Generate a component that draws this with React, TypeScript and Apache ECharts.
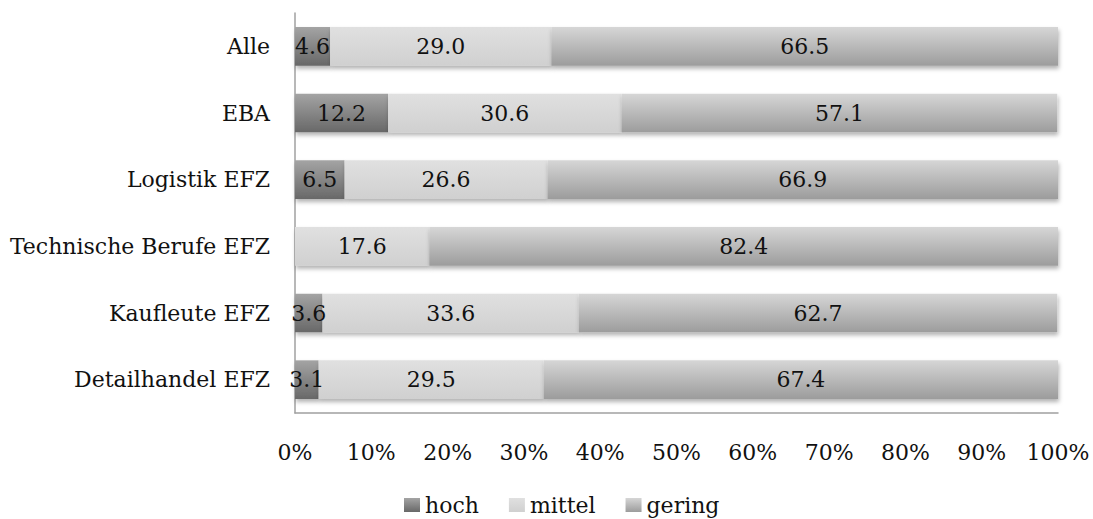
import React, { useEffect, useRef } from "react";
import * as echarts from "echarts";

const categories = [
  "Detailhandel EFZ",
  "Kaufleute EFZ",
  "Technische Berufe EFZ",
  "Logistik EFZ",
  "EBA",
  "Alle",
];
const hoch = [3.1, 3.6, 0, 6.5, 12.2, 4.6];
const mittel = [29.5, 33.6, 17.6, 26.6, 30.6, 29.0];
const gering = [67.4, 62.7, 82.4, 66.9, 57.1, 66.5];
const xTicks = [0, 10, 20, 30, 40, 50, 60, 70, 80, 90, 100];

const FONT = "DejaVu Serif";

function grad(top: string, bottom: string) {
  return new echarts.graphic.LinearGradient(0, 0, 0, 1, [
    { offset: 0, color: top },
    { offset: 1, color: bottom },
  ]);
}

export default function App() {
  const ref = useRef<HTMLDivElement>(null);
  useEffect(() => {
    document.body.style.margin = "0";
    const chart = echarts.init(ref.current!, null, { renderer: "svg" });
    const label = {
      show: true,
      position: "inside" as const,
      color: "#111",
      fontFamily: FONT,
      fontSize: 22,
      formatter: (p: any) => (p.value ? Number(p.value).toFixed(1) : ""),
    };
    const shadow = {
      shadowBlur: 4,
      shadowOffsetX: 1,
      shadowOffsetY: 3,
      shadowColor: "rgba(0,0,0,0.3)",
    };
    const colors = {
      hoch: grad("#a4a4a4", "#686868"),
      mittel: grad("#e0e0e0", "#d0d0d0"),
      gering: grad("#d6d6d6", "#9c9c9c"),
    };
    chart.setOption({
      animation: false,
      grid: { left: 295, right: 35, top: 13, bottom: 106 },
      legend: {
        top: 494,
        left: 404,
        padding: 0,
        itemWidth: 16,
        itemHeight: 14,
        itemGap: 30,
        icon: "rect",
        textStyle: { fontFamily: FONT, fontSize: 22, color: "#111" },
        data: ["hoch", "mittel", "gering"],
      },
      xAxis: {
        type: "value",
        min: 0,
        max: 100,
        interval: 10,
        axisLine: { show: true, lineStyle: { color: "#a0a0a0", width: 1.5 } },
        axisTick: { show: false },
        splitLine: { show: false },
        axisLabel: {
          margin: 28,
          fontFamily: FONT,
          fontSize: 22,
          color: "#111",
          formatter: (v: number) => (xTicks.includes(v) ? `${v}%` : ""),
        },
      },
      yAxis: {
        type: "category",
        data: categories,
        axisLine: { show: true, lineStyle: { color: "#a0a0a0", width: 1.5 } },
        axisTick: { show: false },
        axisLabel: { margin: 25, fontFamily: FONT, fontSize: 22, color: "#111" },
      },
      series: [
        { name: "hoch", data: hoch, color: colors.hoch },
        { name: "mittel", data: mittel, color: colors.mittel },
        { name: "gering", data: gering, color: colors.gering },
      ].map((s) => ({
        type: "bar",
        stack: "total",
        barWidth: "58%",
        name: s.name,
        data: s.data,
        itemStyle: { color: s.color, ...shadow },
        label,
      })),
    });
    return () => chart.dispose();
  }, []);
  return <div ref={ref} style={{ width: 1093, height: 519 }} />;
}
